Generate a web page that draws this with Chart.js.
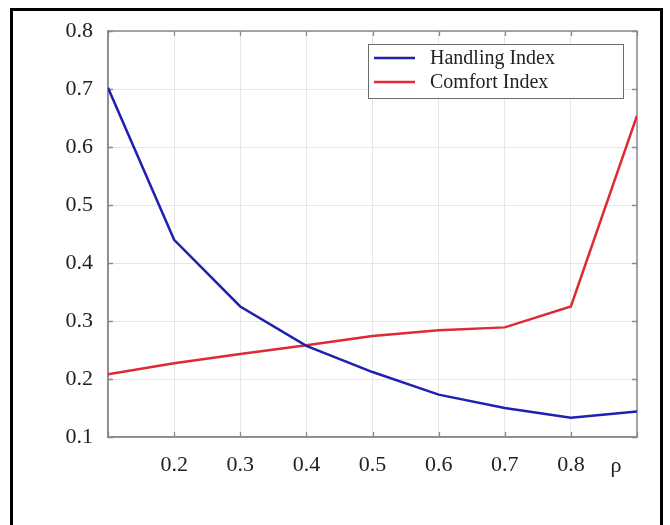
<!DOCTYPE html>
<html>
<head>
<meta charset="utf-8">
<script src="https://cdn.jsdelivr.net/npm/chart.js@4.4.0/dist/chart.umd.min.js"></script>
<style>
  html, body { margin: 0; padding: 0; background: #fff; }
  #wrap { position: relative; width: 670px; height: 525px; overflow: hidden; }
  #frame { position: absolute; left: 10px; top: 8px; width: 647px; height: 540px; border: 3px solid #000; box-sizing: content-box; pointer-events: none; }
  canvas { position: absolute; left: 0; top: 0; }
</style>
</head>
<body>
<div id="wrap">
  <canvas id="c" width="670" height="525"></canvas>
  <div id="frame"></div>
</div>
<script>
const rho = [0.1, 0.2, 0.3, 0.4, 0.5, 0.6, 0.7, 0.8, 0.9];
const handlingIndex = [0.702, 0.440, 0.325, 0.257, 0.212, 0.173, 0.150, 0.133, 0.144];
const comfortIndex = [0.208, 0.227, 0.243, 0.258, 0.274, 0.284, 0.289, 0.325, 0.654];
const seriesLabels = ['Handling Index', 'Comfort Index'];
const seriesColors = ['#1f1fb0', '#dd2a35'];
const xAxisSymbol = 'ρ';

const serif = "'Liberation Serif', 'Times New Roman', serif";

const toPts = (ys) => rho.map((x, i) => ({ x: x, y: ys[i] }));

const boxPlugin = {
  id: 'boxPlugin',
  beforeDatasetsDraw(chart) {
    const ctx = chart.ctx, a = chart.chartArea;
    const xs = chart.scales.x, ys = chart.scales.y;
    ctx.save();
    ctx.strokeStyle = '#8a8a8a';
    ctx.lineWidth = 1.3;
    ctx.beginPath();
    xs.ticks.forEach(t => {
      const px = Math.round(xs.getPixelForValue(t.value)) + 0.5;
      ctx.moveTo(px, a.bottom); ctx.lineTo(px, a.bottom - 5);
      ctx.moveTo(px, a.top); ctx.lineTo(px, a.top + 5);
    });
    ys.ticks.forEach(t => {
      const py = Math.round(ys.getPixelForValue(t.value)) + 0.5;
      ctx.moveTo(a.left, py); ctx.lineTo(a.left + 5, py);
      ctx.moveTo(a.right, py); ctx.lineTo(a.right - 5, py);
    });
    ctx.stroke();
    ctx.lineWidth = 1.5;
    ctx.strokeRect(a.left, a.top, a.right - a.left, a.bottom - a.top);
    ctx.restore();
  },
  afterDraw(chart) {
    const ctx = chart.ctx, a = chart.chartArea;
    ctx.save();
    // axis symbol
    ctx.fillStyle = '#222';
    ctx.font = '22px ' + serif;
    ctx.textAlign = 'center';
    ctx.textBaseline = 'middle';
    ctx.fillText(xAxisSymbol, 616, 466);
    // legend
    const bx = 368.5, by = 44.5, bw = 255, bh = 54;
    ctx.fillStyle = '#fff';
    ctx.fillRect(bx, by, bw, bh);
    ctx.strokeStyle = '#6e6e6e';
    ctx.lineWidth = 1;
    ctx.strokeRect(bx, by, bw, bh);
    ctx.font = '20px ' + serif;
    ctx.textAlign = 'left';
    chart.data.datasets.forEach((ds, i) => {
      const y = 58 + i * 24;
      ctx.strokeStyle = ds.borderColor;
      ctx.lineWidth = 2.5;
      ctx.beginPath();
      ctx.moveTo(374, y); ctx.lineTo(415, y);
      ctx.stroke();
      ctx.fillStyle = '#222';
      ctx.fillText(ds.label, 430, y + 1);
    });
    ctx.restore();
  }
};

new Chart(document.getElementById('c'), {
  type: 'line',
  data: {
    datasets: [
      { label: seriesLabels[0], data: toPts(handlingIndex), borderColor: seriesColors[0], borderWidth: 2.5, pointRadius: 0, tension: 0, fill: false },
      { label: seriesLabels[1], data: toPts(comfortIndex), borderColor: seriesColors[1], borderWidth: 2.5, pointRadius: 0, tension: 0, fill: false }
    ]
  },
  options: {
    responsive: false,
    animation: false,
    layout: { padding: { top: 31, right: 33, left: 0, bottom: 0 } },
    plugins: { legend: { display: false }, tooltip: { enabled: false } },
    scales: {
      x: {
        type: 'linear', min: 0.1, max: 0.9,
        afterFit: (s) => { s.height = 88; },
        ticks: {
          stepSize: 0.1, padding: 15, color: '#222',
          font: { family: serif, size: 22 },
          maxRotation: 0,
          callback: (v) => {
            const r = Math.round(v * 10) / 10;
            return (r <= 0.1 || r >= 0.9) ? '' : r.toFixed(1);
          }
        },
        grid: { color: '#e6e6e6', lineWidth: 1, drawTicks: false },
        border: { color: '#8a8a8a', width: 1.5 }
      },
      y: {
        min: 0.1, max: 0.8,
        afterFit: (s) => { s.width = 108; },
        ticks: {
          stepSize: 0.1, padding: 15, color: '#222',
          font: { family: serif, size: 22 },
          callback: (v) => (Math.round(v * 10) / 10).toFixed(1)
        },
        grid: { color: '#e6e6e6', lineWidth: 1, drawTicks: false },
        border: { color: '#8a8a8a', width: 1.5 }
      }
    }
  },
  plugins: [boxPlugin]
});
</script>
</body>
</html>
